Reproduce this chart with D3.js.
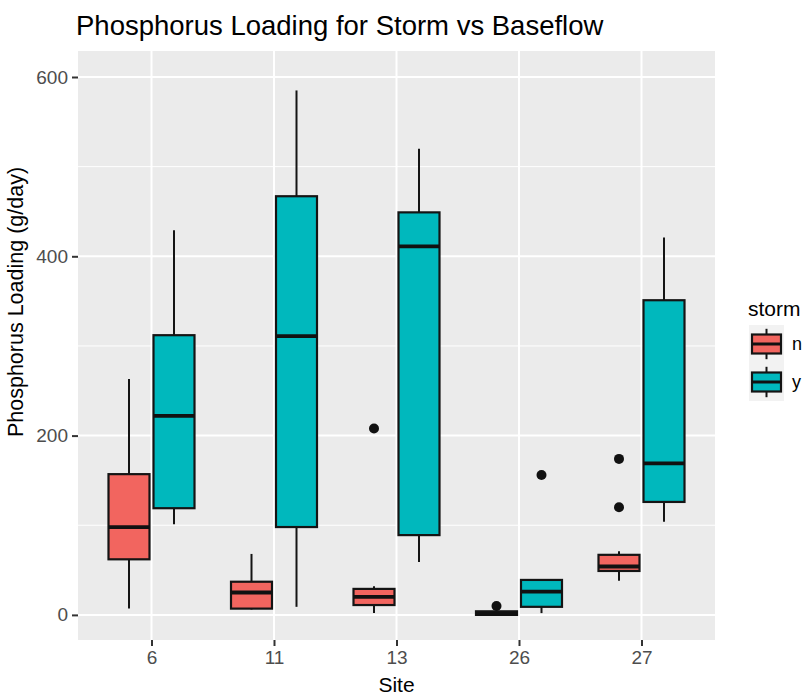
<!DOCTYPE html>
<meta charset="utf-8">
<style>
  body { margin: 0; background: #fff; }
  text { font-family: "Liberation Sans", Arial, sans-serif; }
</style>
<script src="https://d3js.org/d3.v7.min.js"></script>
<div id="chart"></div>
<script>

// data
var sites = ["6", "11", "13", "26", "27"];
var storm = ["n", "y"];

// storm = n
var lowN  = [7, 6, 2, 0, 38];
var q1N   = [62, 7, 11, 0, 49];
var medN  = [98, 25, 20, 1, 54];
var q3N   = [157, 37, 29, 4, 67];
var highN = [263, 68, 32, 5, 71];

// storm = y
var lowY  = [101, 9, 59, 2, 104];
var q1Y   = [119, 98, 89, 9, 126];
var medY  = [222, 311, 411, 26, 169];
var q3Y   = [312, 467, 449, 39, 351];
var highY = [429, 585, 520, 40, 421];

// outliers
var outSite  = ["13", "26", "26", "27", "27"];
var outStorm = ["n", "n", "y", "n", "n"];
var outValue = [208, 10, 156, 174, 120];

var yTicks = [0, 200, 400, 600];
var yMinor = [100, 300, 500];

var colors = { n: "#F2655F", y: "#00B8BD" };

var W = 805, H = 696;
var panel = { left: 78, right: 715, top: 51, bottom: 640 };

var svg = d3.select("#chart").append("svg")
  .attr("width", W).attr("height", H);

// build box records
var boxes = [];
sites.forEach(function(s, i) {
  boxes.push({ site: s, storm: "n", low: lowN[i], q1: q1N[i], med: medN[i], q3: q3N[i], high: highN[i] });
  boxes.push({ site: s, storm: "y", low: lowY[i], q1: q1Y[i], med: medY[i], q3: q3Y[i], high: highY[i] });
});
var outliers = outSite.map(function(s, i) { return { site: s, storm: outStorm[i], value: outValue[i] }; });

// scales
var xIdx = d3.scaleLinear().domain([-0.6, sites.length - 0.4]).range([panel.left, panel.right]);
var x = function(s) { return xIdx(sites.indexOf(s)); };
var xSub = d3.scaleBand().domain(storm).range([-45, 45]);
var y = d3.scaleLinear().domain([-28, 629]).range([panel.bottom, panel.top]);
var halfW = 20.5;
var cx = function(d) { return x(d.site) + xSub(d.storm) + xSub.bandwidth() / 2; };

// panel background
svg.append("rect")
  .attr("x", panel.left).attr("y", panel.top)
  .attr("width", panel.right - panel.left).attr("height", panel.bottom - panel.top)
  .style("fill", "#EBEBEB");

// grid
svg.selectAll("minorGrid").data(yMinor).enter().append("line")
  .attr("x1", panel.left).attr("x2", panel.right)
  .attr("y1", function(d) { return y(d); }).attr("y2", function(d) { return y(d); })
  .style("stroke", "#fff").style("stroke-width", 1);
svg.selectAll("majorGrid").data(yTicks).enter().append("line")
  .attr("x1", panel.left).attr("x2", panel.right)
  .attr("y1", function(d) { return y(d); }).attr("y2", function(d) { return y(d); })
  .style("stroke", "#fff").style("stroke-width", 2);
svg.selectAll("vGrid").data(sites).enter().append("line")
  .attr("x1", function(d) { return x(d); }).attr("x2", function(d) { return x(d); })
  .attr("y1", panel.top).attr("y2", panel.bottom)
  .style("stroke", "#fff").style("stroke-width", 2);

// axes
var yAxis = svg.append("g")
  .attr("transform", "translate(" + panel.left + ",0)")
  .call(d3.axisLeft(y).tickValues(yTicks).tickSize(6).tickPadding(4));
var xAxis = svg.append("g")
  .attr("transform", "translate(0," + panel.bottom + ")")
  .call(d3.axisBottom(xIdx).tickValues(d3.range(sites.length)).tickFormat(function(i) { return sites[i]; }).tickSize(6).tickPadding(5));
[xAxis, yAxis].forEach(function(a) {
  a.select(".domain").remove();
  a.selectAll(".tick line").style("stroke", "#333").style("stroke-width", 2);
  a.selectAll(".tick text").style("fill", "#4D4D4D").style("font-size", "19px")
    .style("font-family", "'Liberation Sans', Arial, sans-serif");
});

// whiskers
var g = svg.append("g");
g.selectAll("whiskerUp").data(boxes).enter().append("line")
  .attr("x1", cx).attr("x2", cx)
  .attr("y1", function(d) { return y(d.q3); }).attr("y2", function(d) { return y(d.high); })
  .style("stroke", "#141414").style("stroke-width", 2);
g.selectAll("whiskerDown").data(boxes).enter().append("line")
  .attr("x1", cx).attr("x2", cx)
  .attr("y1", function(d) { return y(d.q1); }).attr("y2", function(d) { return y(d.low); })
  .style("stroke", "#141414").style("stroke-width", 2);

// boxes
g.selectAll("boxes").data(boxes).enter().append("rect")
  .attr("x", function(d) { return cx(d) - halfW; })
  .attr("width", halfW * 2)
  .attr("y", function(d) { return y(d.q3); })
  .attr("height", function(d) { return y(d.q1) - y(d.q3); })
  .style("fill", function(d) { return colors[d.storm]; })
  .style("stroke", "#141414").style("stroke-width", 2.2);

// medians
g.selectAll("medians").data(boxes).enter().append("line")
  .attr("x1", function(d) { return cx(d) - halfW; })
  .attr("x2", function(d) { return cx(d) + halfW; })
  .attr("y1", function(d) { return y(d.med); }).attr("y2", function(d) { return y(d.med); })
  .style("stroke", "#111").style("stroke-width", 3.8);

// outliers
g.selectAll("outliers").data(outliers).enter().append("circle")
  .attr("cx", cx).attr("cy", function(d) { return y(d.value); })
  .attr("r", 5)
  .style("fill", "#111");

// titles
svg.append("text")
  .attr("x", 76).attr("y", 35)
  .style("font-size", "27.5px").style("fill", "#000")
  .text("Phosphorus Loading for Storm vs Baseflow");

svg.append("text")
  .attr("x", (panel.left + panel.right) / 2).attr("y", 692)
  .attr("text-anchor", "middle")
  .style("font-size", "21px").style("fill", "#000")
  .text("Site");

svg.append("text")
  .attr("transform", "translate(23,302) rotate(-90)")
  .attr("text-anchor", "middle")
  .style("font-size", "21.5px").style("fill", "#000")
  .text("Phosphorus Loading (g/day)");

// legend
var legend = svg.append("g").attr("transform", "translate(748,0)");
legend.append("text")
  .attr("x", 0).attr("y", 316)
  .style("font-size", "21px").style("fill", "#000")
  .text("storm");

var keyTop = 325, keyH = 38, keyW = 29;
var keys = legend.selectAll("keys").data(storm).enter().append("g")
  .attr("transform", function(d, i) { return "translate(4," + (keyTop + i * keyH) + ")"; });
keys.append("rect")
  .attr("x", -3).attr("y", 0).attr("width", keyW + 6).attr("height", keyH)
  .style("fill", "#F2F2F2");
keys.append("line")
  .attr("x1", keyW / 2).attr("x2", keyW / 2)
  .attr("y1", keyH * 0.1).attr("y2", keyH * 0.9)
  .style("stroke", "#141414").style("stroke-width", 2);
keys.append("rect")
  .attr("x", 0).attr("y", keyH * 0.25).attr("width", keyW).attr("height", keyH * 0.5)
  .style("fill", function(d) { return colors[d]; })
  .style("stroke", "#141414").style("stroke-width", 2.2);
keys.append("line")
  .attr("x1", 0).attr("x2", keyW)
  .attr("y1", keyH / 2).attr("y2", keyH / 2)
  .style("stroke", "#111").style("stroke-width", 3);
keys.append("text")
  .attr("x", keyW + 11).attr("y", keyH / 2 + 6)
  .style("font-size", "18px").style("fill", "#000")
  .text(function(d) { return d; });

</script>
